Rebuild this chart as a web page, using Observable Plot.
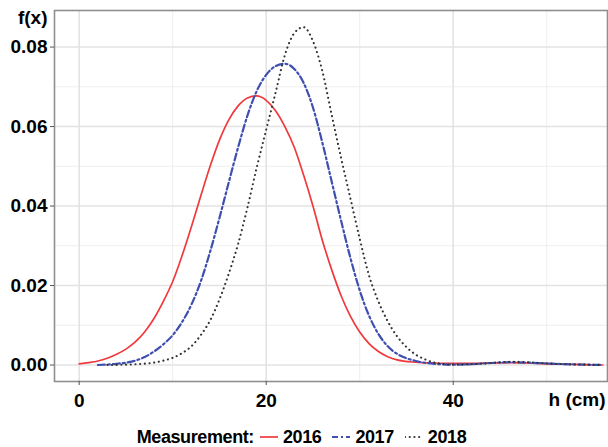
<!DOCTYPE html>
<html>
<head>
<meta charset="utf-8">
<script src="https://cdn.jsdelivr.net/npm/d3@7"></script>
<script src="https://cdn.jsdelivr.net/npm/@observablehq/plot@0.6"></script>
<style>
  html, body { margin: 0; padding: 0; background: #fff; }
  body { width: 608px; height: 447px; overflow: hidden; font-family: "Liberation Sans", Arial, sans-serif; }
  #legend { display: flex; justify-content: center; align-items: center; height: 20px; margin-top: 17px;
            font-weight: bold; font-size: 18px; letter-spacing: -0.4px; color: #000; }
  #legend svg { margin: 0 5px 0 6px; }
  #legend .lab { margin-right: 5px; }
</style>
</head>
<body>
<div id="chart"></div>
<div id="legend"></div>
<script>
// Series
const years = ["2016", "2017", "2018"];

const x2016 = [0, 1, 2, 3, 4, 5, 6, 7, 8, 9, 10, 11, 12, 13, 14, 15, 16, 17, 18, 19, 20, 21, 22, 23, 24, 25, 26, 27, 28, 29, 30, 31, 32, 33, 34, 36, 38, 40, 42, 44, 46, 48, 50, 52, 54, 56];
const y2016 = [0.0003, 0.0006, 0.0010, 0.0017, 0.0027, 0.0040, 0.0058, 0.0083, 0.0117, 0.0160, 0.0210, 0.0275, 0.0348, 0.0425, 0.0500, 0.0566, 0.0617, 0.0652, 0.0672, 0.0677, 0.0666, 0.0640, 0.0600, 0.0548, 0.0478, 0.0400, 0.0314, 0.0240, 0.0175, 0.0123, 0.0083, 0.0054, 0.0034, 0.0021, 0.0013, 0.0007, 0.0005, 0.0004, 0.0004, 0.0005, 0.0006, 0.0005, 0.0003, 0.0002, 0.0001, 0.0000];

const x2017 = [2, 4, 5, 6, 7, 8, 9, 10, 11, 12, 13, 14, 15, 16, 17, 18, 19, 20, 21, 22, 23, 24, 25, 26, 27, 28, 29, 30, 31, 32, 33, 34, 35, 36, 38, 40, 42, 44, 46, 48, 50, 52, 54, 56];
const y2017 = [0.0000, 0.0003, 0.0006, 0.0011, 0.0020, 0.0034, 0.0052, 0.0075, 0.0108, 0.0152, 0.0210, 0.0285, 0.0370, 0.0460, 0.0548, 0.0628, 0.0690, 0.0730, 0.0752, 0.0758, 0.0745, 0.0710, 0.0648, 0.0560, 0.0462, 0.0364, 0.0270, 0.0188, 0.0124, 0.0078, 0.0047, 0.0028, 0.0017, 0.0010, 0.0003, 0.0001, 0.0002, 0.0005, 0.0007, 0.0006, 0.0004, 0.0002, 0.0001, 0.0000];

const x2018 = [3, 6, 8, 9, 10, 11, 12, 13, 14, 15, 16, 17, 18, 19, 20, 21, 22, 23, 24, 25, 26, 27, 28, 29, 30, 31, 32, 33, 34, 35, 36, 37, 38, 40, 42, 44, 46, 48, 50, 52, 54, 56];
const y2018 = [0.0000, 0.0002, 0.0006, 0.0011, 0.0018, 0.0030, 0.0047, 0.0075, 0.0112, 0.0165, 0.0230, 0.0305, 0.0397, 0.0498, 0.0592, 0.0685, 0.0780, 0.0835, 0.0850, 0.0815, 0.0740, 0.0630, 0.0522, 0.0420, 0.0318, 0.0225, 0.0160, 0.0110, 0.0072, 0.0045, 0.0026, 0.0014, 0.0006, 0.0001, 0.0002, 0.0005, 0.0008, 0.0007, 0.0004, 0.0002, 0.0001, 0.0000];

const xTicks = [0, 20, 40];
const xMinor = [10, 30, 50];
const yTicks = [0, 0.02, 0.04, 0.06, 0.08];
const yMinor = [0.01, 0.03, 0.05, 0.07];

const rows = (xs, ys, year) => xs.map((x, i) => ({x, y: ys[i], year}));
const d2016 = rows(x2016, y2016, years[0]);
const d2017 = rows(x2017, y2017, years[1]);
const d2018 = rows(x2018, y2018, years[2]);

const styles = {
  "2016": {stroke: "#EF3A3D", strokeWidth: 1.7},
  "2017": {stroke: "#3F4FB0", strokeWidth: 2.2, strokeDasharray: "7,3,2,3"},
  "2018": {stroke: "#333333", strokeWidth: 2.1, strokeDasharray: "0.1,4.6", strokeLinecap: "round"}
};

const font = "'Liberation Sans', Arial, sans-serif";

const chart = Plot.plot({
  width: 608,
  height: 410,
  marginLeft: 54,
  marginTop: 10,
  marginRight: 1,
  marginBottom: 29,
  style: {fontFamily: font, color: "#000", background: "#fff", overflow: "visible"},
  x: {domain: [-2.64, 56.5]},
  y: {domain: [-0.00415, 0.0892]},
  marks: [
    Plot.gridX(xMinor, {stroke: "#ececec", strokeOpacity: 1, strokeWidth: 0.9}),
    Plot.gridY(yMinor, {stroke: "#ececec", strokeOpacity: 1, strokeWidth: 0.9}),
    Plot.gridX(xTicks, {stroke: "#e3e3e3", strokeOpacity: 1, strokeWidth: 1.6}),
    Plot.gridY(yTicks, {stroke: "#e3e3e3", strokeOpacity: 1, strokeWidth: 1.6}),
    Plot.line(d2016, {x: "x", y: "y", curve: "monotone-x", ...styles["2016"]}),
    Plot.line(d2017, {x: "x", y: "y", curve: "monotone-x", ...styles["2017"]}),
    Plot.line(d2018, {x: "x", y: "y", curve: "monotone-x", ...styles["2018"]}),
    Plot.frame({stroke: "#8f8f8f", strokeWidth: 1.6}),
    Plot.axisY(yTicks, {tickFormat: d3.format(".2f"), tickSize: 4, tickPadding: 3, stroke: "#555",
      fontSize: 19, fontWeight: "bold", fill: "#000", label: null}),
    Plot.axisX(xTicks, {tickSize: 4, tickPadding: 8, stroke: "#555",
      fontSize: 19, fontWeight: "bold", fill: "#000", label: null}),
    Plot.text(["f(x)"], {frameAnchor: "top-left", text: d => d, dx: -7, dy: 7, textAnchor: "end",
      lineAnchor: "middle", fontSize: 19, fontWeight: "bold", fill: "#000"}),
    Plot.text(["h (cm)"], {frameAnchor: "bottom-right", text: d => d, dx: -2, dy: 18, textAnchor: "end",
      lineAnchor: "middle", fontSize: 19, fontWeight: "bold", fill: "#000"})
  ]
});
document.getElementById("chart").appendChild(chart);

// Legend
const legend = document.getElementById("legend");
const title = document.createElement("span");
title.textContent = "Measurement:";
legend.appendChild(title);
years.forEach(yr => {
  const s = styles[yr];
  const ns = "http://www.w3.org/2000/svg";
  const sv = document.createElementNS(ns, "svg");
  sv.setAttribute("width", 18); sv.setAttribute("height", 10);
  const ln = document.createElementNS(ns, "line");
  ln.setAttribute("x1", 0); ln.setAttribute("x2", 18); ln.setAttribute("y1", 5); ln.setAttribute("y2", 5);
  ln.setAttribute("stroke", s.stroke); ln.setAttribute("stroke-width", s.strokeWidth);
  if (s.strokeDasharray) ln.setAttribute("stroke-dasharray", yr === "2017" ? "6,3,2,3" : s.strokeDasharray);
  if (s.strokeLinecap) ln.setAttribute("stroke-linecap", s.strokeLinecap);
  sv.appendChild(ln);
  legend.appendChild(sv);
  const lab = document.createElement("span");
  lab.className = "lab";
  lab.textContent = yr;
  legend.appendChild(lab);
});
</script>
</body>
</html>
